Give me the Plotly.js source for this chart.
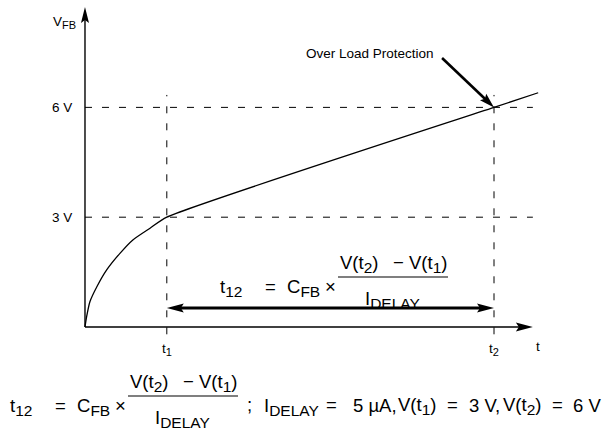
<!DOCTYPE html>
<html><head><meta charset="utf-8">
<script src="https://cdn.plot.ly/plotly-3.0.1.min.js"></script>
<style>html,body{margin:0;padding:0;background:#fff}</style>
</head><body>
<div id="chart" style="width:608px;height:432px"></div>
<script>
// ---- data ----
const tCurve = [0, 0.04, 0.12, 0.29, 0.53, 0.86, 1.17, 1.59, 2.0, 10.0, 11.08];
const vCurve = [0, 0.28, 0.69, 1.10, 1.56, 2.02, 2.38, 2.70, 3.0, 6.0, 6.40];
const tMarks = [2, 10];            // t1, t2
const tMarkSubs = ['1', '2'];
const vLevels = [3, 6];            // V(t1), V(t2)
const vLevelLabels = ['3 V', '6 V'];
const olpTail = [8.73, 7.35];      // start of "Over Load Protection" pointer
const delayArrowV = 0.52;          // height of the t12 double arrow
const xAxisEnd = 10.95, yAxisEnd = 8.74;
const dashTEnd = 10.95, dashVBottom = -0.2, dashVTop = 6.34;

// ---- frame ----
const W = 608, H = 432;
const X0 = -2.078, X1 = 12.787, Y0 = -2.869, Y1 = 8.934;
const kx = W / (X1 - X0), ky = H / (Y1 - Y0);
const FONT = 'Liberation Sans, Arial, Helvetica, sans-serif';
const BLACK = '#000';
const t1 = tMarks[0], t2 = tMarks[1];
const v1 = vLevels[0], v2 = vLevels[1];
const LF = 13.5, LS = 11;   // label font / sub
const F = 18.5, S = 15.5;   // formula font / sub

const px = x => x / W, py = y => 1 - y / H;
const sub = (s, size) => `<sub><span style="font-size:${size}px">${s}</span></sub>`;

function txt(text, x, y, size, xanchor) {
  return {text, x: px(x), y: py(y), xref: 'paper', yref: 'paper', showarrow: false,
    xanchor: xanchor || 'left', yanchor: 'middle', font: {family: FONT, size, color: BLACK}};
}

function head(tipT, tipV, angDeg, len, halfW, notch) {
  const a = angDeg * Math.PI / 180, c = Math.cos(a), s = Math.sin(a);
  const bx = -len * c, by = -len * s;
  const nx = -(len - notch) * c, ny = -(len - notch) * s;
  const p1x = bx - halfW * s, p1y = by + halfW * c;
  const p2x = bx + halfW * s, p2y = by - halfW * c;
  return {type: 'path', xref: 'x', yref: 'y', xsizemode: 'pixel', ysizemode: 'pixel',
    xanchor: tipT, yanchor: tipV,
    path: `M0,0 L${p1x.toFixed(2)},${p1y.toFixed(2)} L${nx.toFixed(2)},${ny.toFixed(2)} L${p2x.toFixed(2)},${p2y.toFixed(2)} Z`,
    fillcolor: BLACK, line: {width: 0}};
}

const shapes = [];
vLevels.forEach(v => shapes.push({type: 'line', xref: 'x', yref: 'y', x0: 0, x1: dashTEnd, y0: v, y1: v,
  line: {color: BLACK, width: 1, dash: '7px,10px'}}));
tMarks.forEach(t => shapes.push({type: 'line', xref: 'x', yref: 'y', x0: t, x1: t, y0: dashVBottom, y1: dashVTop,
  line: {color: BLACK, width: 1, dash: '7px,10px'}}));
// axes
shapes.push({type: 'line', xref: 'x', yref: 'y', x0: 0, x1: 0, y0: 0, y1: yAxisEnd - 8 / ky, line: {color: BLACK, width: 1.4}});
shapes.push({type: 'line', xref: 'x', yref: 'y', x0: 0, x1: xAxisEnd - 8 / kx, y0: 0, y1: 0, line: {color: BLACK, width: 1.4}});
shapes.push(head(0, yAxisEnd, 90, 16, 4, 3));
shapes.push(head(xAxisEnd, 0, 0, 17, 4.5, 3));
// t12 double arrow
shapes.push({type: 'line', xref: 'x', yref: 'y', x0: t1 + 12 / kx, x1: t2 - 12 / kx, y0: delayArrowV, y1: delayArrowV,
  line: {color: BLACK, width: 3}});
shapes.push(head(t1, delayArrowV, 180, 17, 4.5, 3));
shapes.push(head(t2, delayArrowV, 0, 17, 4.5, 3));
// over load pointer
{
  const dxp = (t2 - olpTail[0]) * kx, dyp = (v2 - olpTail[1]) * ky;
  const ang = Math.atan2(dyp, dxp);
  shapes.push({type: 'line', xref: 'x', yref: 'y', x0: olpTail[0], y0: olpTail[1],
    x1: t2 - 10 * Math.cos(ang) / kx, y1: v2 - 10 * Math.sin(ang) / ky, line: {color: BLACK, width: 2.6}});
  shapes.push(head(t2, v2, ang * 180 / Math.PI, 15, 4.5, 2.5));
}

const annotations = [];
// axis labels / ticks
annotations.push(txt('V' + sub('FB', LS), 78, 22, LF, 'right'));
vLevels.forEach((v, i) => annotations.push({text: vLevelLabels[i], x: px(74), xref: 'paper', y: v, yref: 'y',
  showarrow: false, xanchor: 'right', yanchor: 'middle', font: {family: FONT, size: LF, color: BLACK}}));
tMarks.forEach((t, i) => annotations.push({text: 't' + sub(tMarkSubs[i], LS), x: t, xref: 'x', y: py(349), yref: 'paper',
  showarrow: false, xanchor: 'center', yanchor: 'middle', font: {family: FONT, size: LF, color: BLACK}}));
annotations.push(txt('t', 537.5, 346, LF, 'center'));
annotations.push(txt('Over Load Protection', 436, 53, LF, 'right'));

// formula
function formula(dx, dy) {
  annotations.push(txt('t' + sub('12', S), 218 + dx, 288 + dy, F, 'left'));
  annotations.push(txt('=', 270 + dx, 286 + dy, F, 'center'));
  annotations.push(txt('C' + sub('FB', S), 285 + dx, 288 + dy, F, 'left'));
  annotations.push(txt('×', 330 + dx, 286 + dy, F, 'center'));
  annotations.push(txt('V(t' + sub('2', S) + ')', 338 + dx, 264 + dy, F, 'left'));
  annotations.push(txt('−', 398.5 + dx, 262 + dy, F, 'center'));
  annotations.push(txt('V(t' + sub('1', S) + ')', 449 + dx, 264 + dy, F, 'right'));
  annotations.push(txt('I' + sub('DELAY', S), 392 + dx, 300 + dy, F, 'center'));
  shapes.push({type: 'line', xref: 'paper', yref: 'paper', x0: px(338 + dx), x1: px(448 + dx),
    y0: py(277 + dy), y1: py(277 + dy), line: {color: BLACK, width: 1.2}});
}
formula(0, 0);
formula(-210, 119);
{
  const y = 405;
  annotations.push(txt(';', 249, y - 1, F, 'center'));
  annotations.push(txt('I' + sub('DELAY', S), 262, y + 2, F, 'left'));
  annotations.push(txt('=', 331, y - 1, F, 'center'));
  annotations.push(txt('5 µA,', 351, y, F, 'left'));
  annotations.push(txt('V(t' + sub('1', S) + ')', 396, y + 1, F, 'left'));
  annotations.push(txt('=', 452.5, y - 1, F, 'center'));
  annotations.push(txt('3 V,', 467, y, F, 'left'));
  annotations.push(txt('V(t' + sub('2', S) + ')', 501, y + 1, F, 'left'));
  annotations.push(txt('=', 557.5, y - 1, F, 'center'));
  annotations.push(txt('6 V', 603, y, F, 'right'));
}

const traces = [{x: tCurve, y: vCurve, type: 'scatter', mode: 'lines',
  line: {color: BLACK, width: 1.3, shape: 'spline', smoothing: 0.6}, hoverinfo: 'skip'}];

const layout = {
  width: W, height: H, margin: {l: 0, r: 0, t: 0, b: 0},
  paper_bgcolor: '#fff', plot_bgcolor: '#fff', showlegend: false,
  xaxis: {range: [X0, X1], visible: false, fixedrange: true},
  yaxis: {range: [Y0, Y1], visible: false, fixedrange: true},
  shapes, annotations
};
Plotly.newPlot('chart', traces, layout, {staticPlot: true, displayModeBar: false});
</script>
</body></html>
